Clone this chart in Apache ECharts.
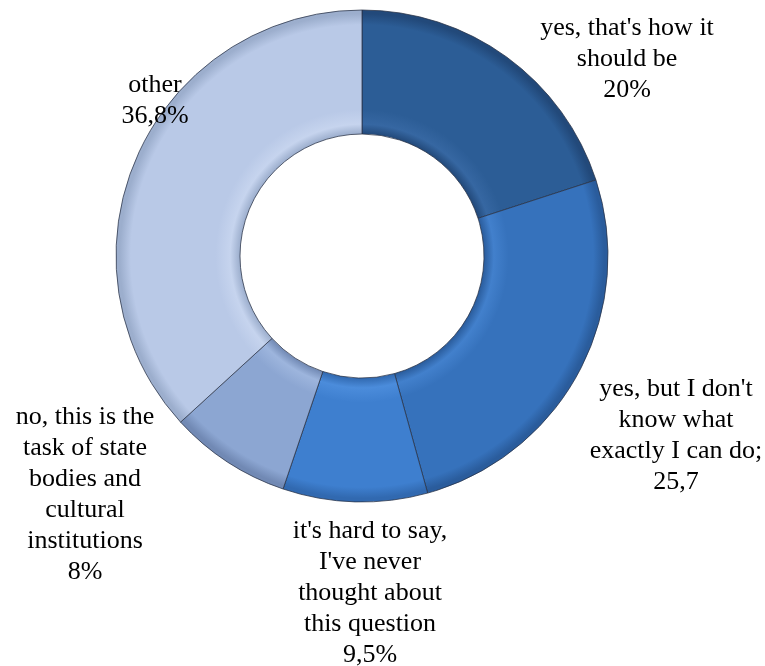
<!DOCTYPE html>
<html>
<head>
<meta charset="utf-8">
<script src="https://cdn.jsdelivr.net/npm/echarts@6/dist/echarts.min.js"></script>
<style>
html,body{margin:0;padding:0;background:#fff;}
#chart{width:765px;height:666px;}
</style>
</head>
<body>
<div id="chart"></div>
<script>
// Data
var categories = [
  "yes, that's how it\nshould be",
  "yes, but I don't\nknow what\nexactly I can do;",
  "it's hard to say,\nI've never\nthought about\nthis question",
  "no, this is the\ntask of state\nbodies and\ncultural\ninstitutions",
  "other"
];
var values = [20, 25.7, 9.5, 8, 36.8];
var valueLabels = ["20%", "25,7", "9,5%", "8%", "36,8%"];

// Styles / positions (not data)
var baseColors = ['#2C5D96', '#3672BC', '#3E7FCF', '#8CA6D2', '#B9C9E7'];
var edgeColors = ['#22497A', '#2A5C9C', '#3169B0', '#7189B4', '#9CAECD'];
var lightColors = ['#3667A2', '#4280CC', '#4B8CDB', '#9DB5DD', '#C6D4EE'];
var labelPos = [[627, 59], [676, 436], [370, 593], [85, 495], [155, 101]];
var CX = 362, CY = 256, R0 = 122, R1 = 246;

function grad(i) {
  var r0 = R0 / R1;
  return {
    type: 'radial', x: CX, y: CY, r: R1, global: true,
    colorStops: [
      {offset: 0, color: baseColors[i]},
      {offset: r0, color: edgeColors[i]},
      {offset: r0 + 0.04, color: lightColors[i]},
      {offset: r0 + 0.1, color: baseColors[i]},
      {offset: 0.94, color: baseColors[i]},
      {offset: 0.985, color: edgeColors[i]},
      {offset: 1, color: edgeColors[i]}
    ]
  };
}

var seriesData = values.map(function (v, i) {
  return {
    name: categories[i],
    value: v,
    itemStyle: {color: grad(i)},
    label: {formatter: categories[i] + '\n' + valueLabels[i]}
  };
});

var chart = echarts.init(document.getElementById('chart'), null, {renderer: 'canvas'});
chart.setOption({
  animation: false,
  backgroundColor: '#ffffff',
  series: [{
    type: 'pie',
    center: [CX, CY],
    radius: [R0, R1],
    startAngle: 90,
    clockwise: true,
    avoidLabelOverlap: false,
    itemStyle: {
      borderColor: 'rgba(40,50,70,0.75)',
      borderWidth: 1
    },
    label: {
      show: true,
      position: 'outside',
      color: '#000',
      fontFamily: 'Liberation Serif',
      fontSize: 26,
      lineHeight: 31,
      align: 'center'
    },
    labelLine: {show: false},
    labelLayout: function (p) {
      var pos = labelPos[p.dataIndex];
      return {x: pos[0], y: pos[1], align: 'center', verticalAlign: 'middle'};
    },
    emphasis: {disabled: true},
    data: seriesData
  }]
});
</script>
</body>
</html>
